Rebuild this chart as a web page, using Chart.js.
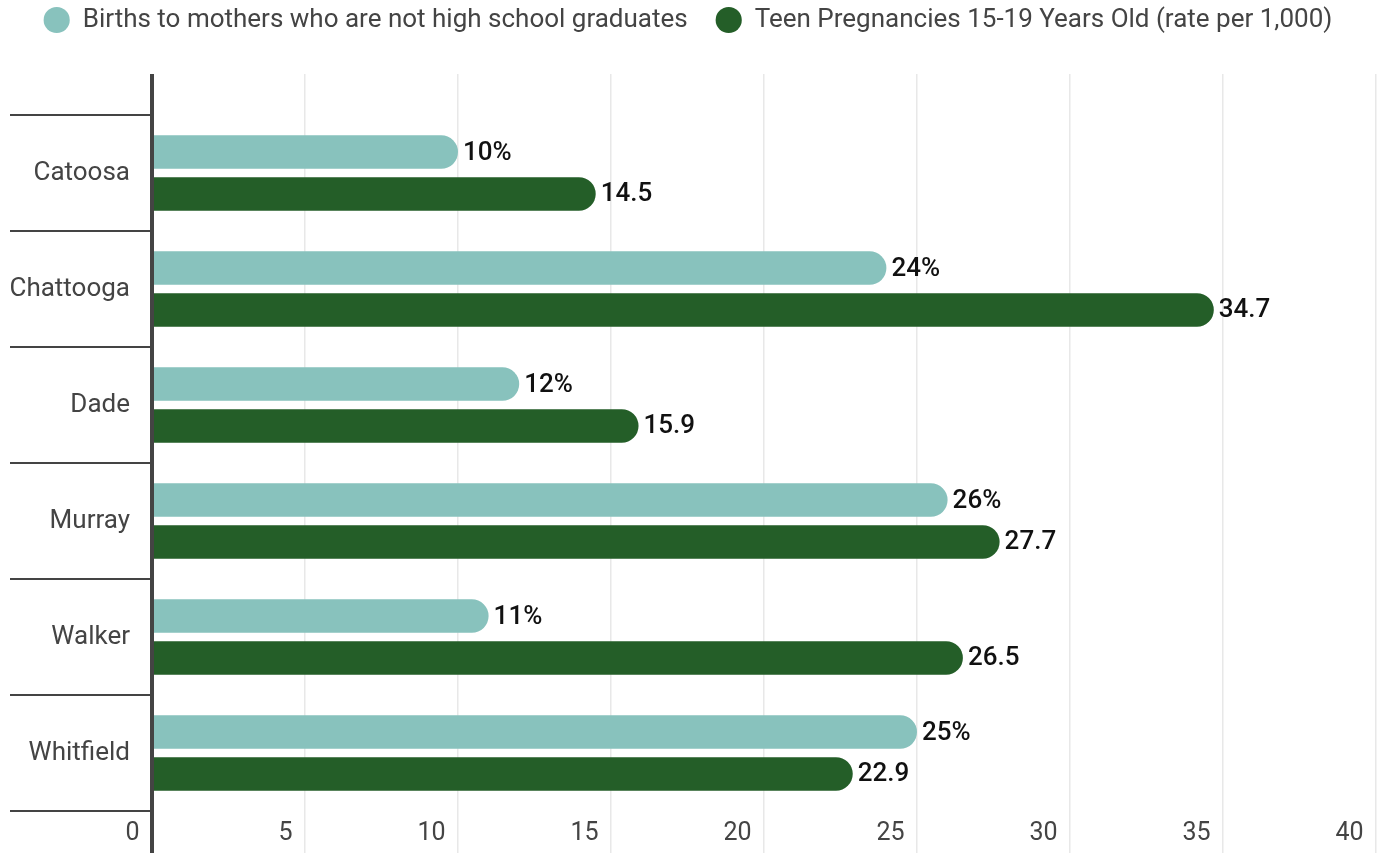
<!DOCTYPE html>
<html>
<head>
<meta charset="utf-8">
<script src="https://cdn.jsdelivr.net/npm/chart.js@4/dist/chart.umd.min.js"></script>
<style>
  html, body { margin: 0; padding: 0; background: #fff; }
  #wrap { width: 1380px; height: 853px; position: relative; }
</style>
</head>
<body>
<div id="wrap"><canvas id="barChart"></canvas></div>
<script>
// counties and the two measures per county
var counties = ['Catoosa', 'Chattooga', 'Dade', 'Murray', 'Walker', 'Whitfield'];
var birthsNoDiploma = [10, 24, 12, 26, 11, 25];
var teenPregnancy = [14.5, 34.7, 15.9, 27.7, 26.5, 22.9];
var seriesNames = ['Births to mothers who are not high school graduates', 'Teen Pregnancies 15-19 Years Old (rate per 1,000)'];
var xTicks = [0, 5, 10, 15, 20, 25, 30, 35, 40];

var lightColor = '#88c2bd';
var darkColor = '#245e28';
var axisColor = '#444444';
var gridColor = '#e8e8e8';

// value labels at the end of each bar
var barLabels = {
  id: 'barLabels',
  afterDatasetsDraw: function(chart) {
    var ctx = chart.ctx;
    ctx.save();
    ctx.font = '500 26px Roboto';
    ctx.fillStyle = '#111';
    ctx.textAlign = 'left';
    ctx.textBaseline = 'middle';
    chart.data.datasets.forEach(function(ds, d) {
      var meta = chart.getDatasetMeta(d);
      meta.data.forEach(function(bar, i) {
        var v = ds.data[i];
        var txt = d == 0 ? v + '%' : String(v);
        ctx.fillText(txt, bar.x + 5, bar.y + 1);
      });
    });
    ctx.restore();
  }
};

function gridLineColor(c) {
  return c.tick && c.tick.value === 0 ? axisColor : gridColor;
}
function gridLineWidth(c) {
  return c.tick && c.tick.value === 0 ? 4 : 1.5;
}

new Chart(document.getElementById('barChart'), {
  type: 'bar',
  data: {
    labels: counties,
    datasets: [
      {
        label: seriesNames[0],
        data: birthsNoDiploma,
        backgroundColor: lightColor,
        borderRadius: 17,
        borderSkipped: 'start',
        categoryPercentage: 0.724,
        barPercentage: 0.8
      },
      {
        label: seriesNames[1],
        data: teenPregnancy,
        backgroundColor: darkColor,
        borderRadius: 17,
        borderSkipped: 'start',
        categoryPercentage: 0.724,
        barPercentage: 0.8
      }
    ]
  },
  options: {
    indexAxis: 'y',
    responsive: true,
    maintainAspectRatio: false,
    animation: false,
    // legend padding is wide for the gap between items, pull it up
    layout: { padding: { left: 0, right: 4, top: -21, bottom: 0 } },
    plugins: {
      tooltip: { enabled: false },
      legend: {
        position: 'top',
        align: 'center',
        labels: {
          usePointStyle: true,
          pointStyle: 'circle',
          boxHeight: 18.5,
          padding: 28,
          color: axisColor,
          font: { family: 'Roboto', size: 26 }
        }
      }
    },
    scales: {
      x: {
        position: 'bottom',
        min: 0,
        max: 40,
        afterBuildTicks: function(s) { s.ticks = xTicks.map(function(v) { return { value: v }; }); },
        afterFit: function(s) { s.height = 42; },
        border: { display: false },
        grid: {
          color: gridLineColor,
          lineWidth: gridLineWidth,
          tickLength: 42
        },
        ticks: {
          align: 'end',
          padding: -34,
          color: axisColor,
          font: { family: 'Roboto', size: 25 },
          callback: function(v) { return v + '  '; }
        }
      },
      x2: {
        position: 'top',
        min: 0,
        max: 40,
        afterBuildTicks: function(s) { s.ticks = xTicks.map(function(v) { return { value: v }; }); },
        afterFit: function(s) { s.height = 72; },
        border: { display: false },
        grid: {
          drawOnChartArea: false,
          color: gridLineColor,
          lineWidth: gridLineWidth,
          tickLength: 41
        },
        ticks: { display: false }
      },
      y: {
        position: 'left',
        z: 1,
        afterFit: function(s) { s.width = 152; },
        border: { display: true, color: axisColor, width: 4 },
        grid: {
          offset: true,
          drawOnChartArea: false,
          color: axisColor,
          lineWidth: 2,
          tickLength: 142
        },
        ticks: {
          padding: -120,
          color: axisColor,
          font: { family: 'Roboto', size: 26 }
        }
      }
    }
  },
  plugins: [barLabels]
});
</script>
</body>
</html>
